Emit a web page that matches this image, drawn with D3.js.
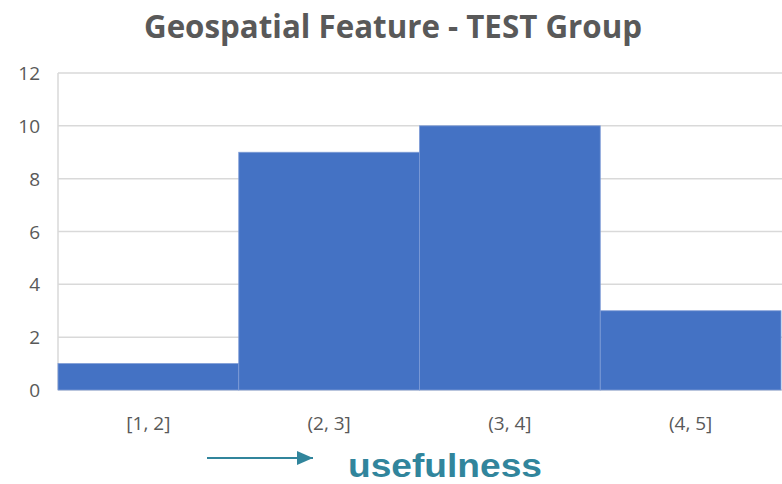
<!DOCTYPE html>
<html>
<head>
<meta charset="utf-8">
<script src="https://cdn.jsdelivr.net/npm/d3@7"></script>
<style>
  body { margin: 0; background: #fff; }
</style>
</head>
<body>
<div class="display"></div>
<script>
const bins = ['[1, 2]', '(2, 3]', '(3, 4]', '(4, 5]'];
const counts = [1, 9, 10, 3];
const yTicks = [0, 2, 4, 6, 8, 10, 12];
const chartTitle = 'Geospatial Feature - TEST Group';
const axisTitle = 'usefulness';

const width = 782;
const height = 484;
const plot = {left: 58, right: 781, top: 73, bottom: 390};

const svg = d3.select('.display')
  .append('svg')
  .attr('width', width)
  .attr('height', height);

const x = d3.scaleBand()
  .domain(bins)
  .range([plot.left, plot.right])
  .padding(0);

const y = d3.scaleLinear()
  .domain([0, 12])
  .range([plot.bottom, plot.top]);

// gridlines
svg.append('g')
  .selectAll('line')
  .data(yTicks)
  .enter()
  .append('line')
  .attr('x1', plot.left)
  .attr('x2', plot.right + 1)
  .attr('y1', d => y(d))
  .attr('y2', d => y(d))
  .attr('stroke', '#d9d9d9')
  .attr('stroke-width', 1.5);

svg.append('line')
  .attr('x1', plot.left)
  .attr('x2', plot.left)
  .attr('y1', plot.top)
  .attr('y2', plot.bottom)
  .attr('stroke', '#d9d9d9')
  .attr('stroke-width', 1.5);

// bars
svg.append('g')
  .selectAll('rect')
  .data(counts)
  .enter()
  .append('rect')
  .attr('x', (d, i) => x(bins[i]))
  .attr('y', d => y(d))
  .attr('width', x.bandwidth())
  .attr('height', d => y(0) - y(d))
  .attr('fill', '#4472c4')
  .attr('stroke', '#7d9bd6')
  .attr('stroke-width', 0.8);

// y tick labels
svg.append('g')
  .selectAll('text')
  .data(yTicks)
  .enter()
  .append('text')
  .attr('x', 40)
  .attr('y', d => y(d) + 7)
  .attr('text-anchor', 'end')
  .attr('font-family', 'Open Sans, sans-serif')
  .attr('font-size', 19)
  .attr('fill', '#595959')
  .text(d => d);

// x tick labels
svg.append('g')
  .selectAll('text')
  .data(bins)
  .enter()
  .append('text')
  .attr('x', d => x(d) + x.bandwidth() / 2)
  .attr('y', 430)
  .attr('text-anchor', 'middle')
  .attr('font-family', 'Open Sans, sans-serif')
  .attr('font-size', 19)
  .attr('fill', '#595959')
  .text(d => d);

// title
svg.append('text')
  .attr('x', 393)
  .attr('y', 38)
  .attr('text-anchor', 'middle')
  .attr('font-family', 'Open Sans, sans-serif')
  .attr('font-weight', 'bold')
  .attr('font-size', 31.3)
  .attr('fill', '#595959')
  .text(chartTitle);

// arrow + axis label
const teal = '#31859c';
svg.append('defs').append('marker')
  .attr('id', 'arrow')
  .attr('viewBox', '0 0 10 10')
  .attr('refX', 10)
  .attr('refY', 5)
  .attr('markerWidth', 8)
  .attr('markerHeight', 7)
  .attr('markerUnits', 'strokeWidth')
  .attr('orient', 'auto')
  .attr('preserveAspectRatio', 'none')
  .append('path')
  .attr('d', 'M0,0 L10,5 L0,10 Z')
  .attr('fill', teal);

svg.append('line')
  .attr('x1', 207)
  .attr('x2', 313)
  .attr('y1', 458)
  .attr('y2', 458)
  .attr('stroke', teal)
  .attr('stroke-width', 2)
  .attr('marker-end', 'url(#arrow)');

svg.append('text')
  .attr('x', 348)
  .attr('y', 477)
  .attr('font-family', 'Liberation Sans, Arial, sans-serif')
  .attr('font-weight', 'bold')
  .attr('font-size', 34)
  .attr('textLength', 194)
  .attr('lengthAdjust', 'spacingAndGlyphs')
  .attr('fill', teal)
  .text(axisTitle);
</script>
</body>
</html>
